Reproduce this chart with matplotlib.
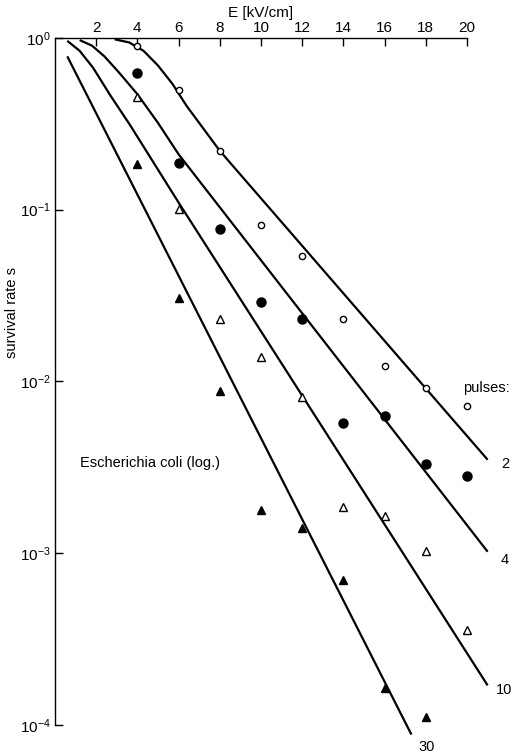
import numpy as np
import matplotlib
matplotlib.use("Agg")
import matplotlib.pyplot as plt

plt.rcParams["font.family"] = ["Liberation Sans", "DejaVu Sans"]
plt.rcParams["font.size"] = 10

# field strength of the measurements [kV/cm]
E = [4, 6, 8, 10, 12, 14, 16, 18, 20]

# measured survival rates, one series per number of pulses
s_2 = [0.89, 0.50, 0.22, 0.081, 0.054, 0.023, 0.0123, 0.0092, 0.0072]
s_4 = [0.625, 0.187, 0.077, 0.029, 0.023, 0.0057, 0.0063, 0.0033, 0.0028]
s_10 = [0.45, 0.101, 0.023, 0.0139, 0.0081, 0.00186, 0.00165, 0.00103, 0.000357]
E_30 = [4, 6, 8, 10, 12, 14, 16, 18]
s_30 = [0.185, 0.0306, 0.0088, 0.00179, 0.0014, 0.0007, 0.000164, 0.000111]

# fitted curves (nodes along each curve)
fit_2_E = [2.9, 3.6, 4.3, 5.0, 5.7, 6.4, 8.0, 21.0]
fit_2_s = [0.98, 0.94, 0.84, 0.69, 0.54, 0.40, 0.22, 0.0035]
fit_4_E = [1.2, 1.8, 2.4, 3.1, 4.0, 5.0, 6.0, 21.0]
fit_4_s = [0.97, 0.90, 0.78, 0.63, 0.47, 0.32, 0.21, 0.00102]
fit_10_E = [0.6, 1.2, 1.85, 2.7, 3.65, 6.0, 21.0]
fit_10_s = [0.96, 0.84, 0.67, 0.46, 0.31, 0.11, 0.00017]
fit_30_E = [0.6, 17.3]
fit_30_s = [0.78, 8.8e-5]

pulses = ["2", "4", "10", "30"]

fig = plt.figure(figsize=(5.23, 7.56), dpi=100)
ax = fig.add_axes([0.105, 0.041, 0.788, 0.909])
ax.set_yscale("log")
ax.set_xlim(0, 20)
ax.set_ylim(1e-4, 1)

lw = 1.6
for fe, fs in [(fit_2_E, fit_2_s), (fit_4_E, fit_4_s),
               (fit_10_E, fit_10_s), (fit_30_E, fit_30_s)]:
    ax.plot(fe, fs, color="black", lw=lw, clip_on=False,
            solid_capstyle="butt", solid_joinstyle="round")

ax.plot(E, s_2, "o", mfc="white", mec="black", mew=1.0, ms=4.5, clip_on=False)
ax.plot(E, s_4, "o", color="black", ms=6.5, clip_on=False)
ax.plot(E, s_10, "^", mfc="white", mec="black", mew=1.0, ms=6, clip_on=False)
ax.plot(E_30, s_30, "^", color="black", ms=6, clip_on=False)

# curve labels
fs_txt = 10.5
ax.text(21.85, 3.3e-3, pulses[0], ha="center", va="center", fontsize=fs_txt)
ax.text(21.85, 9.1e-4, pulses[1], ha="center", va="center", fontsize=fs_txt)
ax.text(21.8, 1.6e-4, pulses[2], ha="center", va="center", fontsize=fs_txt)
ax.text(18.05, 7.4e-5, pulses[3], ha="center", va="center", fontsize=fs_txt)
ax.text(19.8, 9.2e-3, "pulses:", ha="left", va="center", fontsize=fs_txt)
ax.text(1.2, 3.35e-3, "Escherichia coli (log.)", ha="left", va="center",
        fontsize=fs_txt)

# axes: top x axis and left y axis only
ax.spines["bottom"].set_visible(False)
ax.spines["right"].set_visible(False)
ax.spines["top"].set_linewidth(1.0)
ax.spines["left"].set_linewidth(1.0)
ax.xaxis.tick_top()
ax.xaxis.set_label_position("top")
ax.set_xticks(range(2, 21, 2))
ax.set_yticks([1e-4, 1e-3, 1e-2, 1e-1, 1])
ax.yaxis.set_minor_locator(matplotlib.ticker.NullLocator())
ax.tick_params(axis="x", direction="in", length=6, width=1.0, pad=2, labelsize=11)
ax.tick_params(axis="y", direction="in", length=6, width=1.0, pad=3, labelsize=11)
ax.set_xlabel("E [kV/cm]", fontsize=11, labelpad=3)
ax.set_ylabel("survival rate s", fontsize=fs_txt)
ax.yaxis.set_label_coords(-0.088, 0.6)

fig.savefig("out.png", dpi=100)
